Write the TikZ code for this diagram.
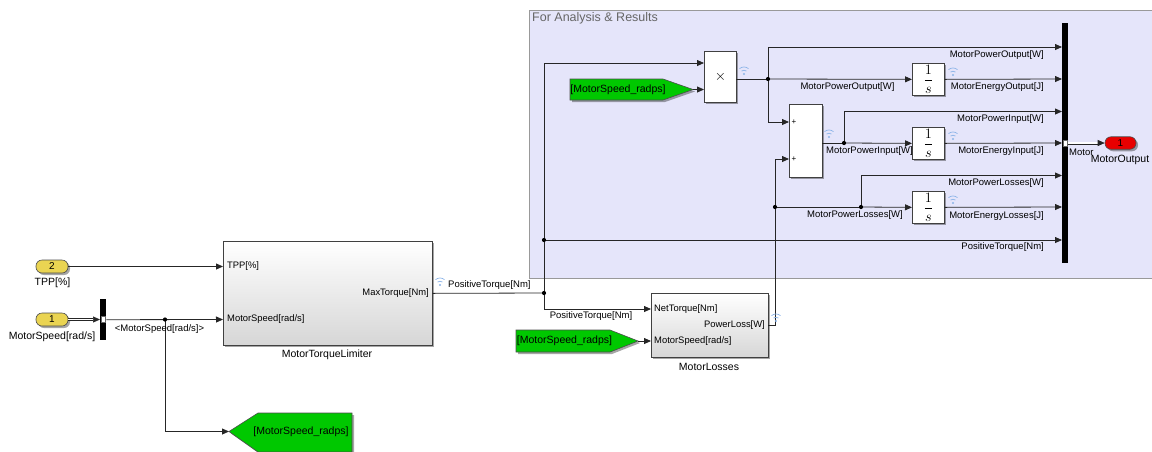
\documentclass[tikz,border=0pt]{standalone}
\usepackage{fontspec}
\setmainfont{Liberation Sans}
\usetikzlibrary{arrows.meta,shadows}
\definecolor{areafill}{RGB}{229,229,250}
\definecolor{taggreen}{RGB}{0,200,0}
\definecolor{inyellow}{RGB}{234,212,82}
\definecolor{outred}{RGB}{232,0,0}
\definecolor{wific}{RGB}{140,180,232}
\begin{document}
\begin{tikzpicture}[x=1pt,y=-1pt,
  font=\fontsize{9.5}{11}\selectfont,
  wire/.style={draw=black!85, line width=0.8pt},
  sig/.style={wire, -{Triangle[length=7pt,width=6pt]}},
  busw/.style={draw=black!85, line width=0.7pt, double=white, double distance=1.6pt},
  jdot/.style={circle, fill=black, inner sep=0pt, minimum size=4.2pt},
  bshadow/.style={drop shadow={shadow xshift=2pt, shadow yshift=-2pt, opacity=0.35, fill=black}},
  blk/.style={draw=black!75, fill=white, line width=0.7pt, bshadow, anchor=north west, inner sep=0pt},
  bigblk/.style={blk, top color=white, bottom color=black!16},
  lbl/.style={inner sep=0pt},
  plabel/.style={inner sep=0pt, font=\fontsize{9.4}{11}\selectfont},
  blkname/.style={inner sep=0pt, font=\fontsize{10.5}{12}\selectfont},
  tagshape/.style={draw=black!70, fill=taggreen, line width=0.6pt, bshadow},
  tagtext/.style={inner sep=0pt, font=\fontsize{10.5}{12}\selectfont},
  portblk/.style={draw=black!70, fill=inyellow, rounded corners=6pt, minimum width=32pt,
    minimum height=13pt, inner sep=0pt, line width=0.6pt, bshadow, font=\fontsize{10}{11}\selectfont},
  barblk/.style={fill=black, anchor=north west, inner sep=0pt},
  tap/.style={draw=black!60, fill=white, minimum width=4pt, minimum height=6pt, inner sep=0pt, line width=0.3pt},
  intg/.style={blk, minimum width=32pt, minimum height=32pt, font=\fontsize{13.5}{14}\selectfont},
  logpic/.pic={
    \fill[wific] (0,0) circle (1.1pt);
    \draw[wific, line width=0.7pt] ([shift={(50:3.8pt)}]0,0) arc[start angle=50, end angle=130, radius=3.8pt];
    \draw[wific, line width=0.7pt] ([shift={(50:7pt)}]0,0) arc[start angle=50, end angle=130, radius=7pt];
  }
]
\useasboundingbox (0,0) rectangle (1152,451);

% ---------- analysis area ----------
\node[draw=black!40, fill=areafill, line width=0.8pt, anchor=north west, inner sep=0pt,
      minimum width=640pt, minimum height=268.5pt] (area) at (529,9.5) {};
\node[anchor=west, inner sep=0pt, text=black!60, font=\fontsize{12.5}{14}\selectfont] (areatitle) at (532,18) {For Analysis \& Results};

% ---------- blocks ----------
\node[blk, minimum width=32pt, minimum height=51pt, font=\fontsize{14}{15}\selectfont] (prod) at (704,51) {$\times$};
\node[blk, minimum width=33pt, minimum height=73pt] (sum) at (789,104) {};
\node[lbl, font=\fontsize{8}{9}\selectfont] (sump1) at (794,122) {+};
\node[lbl, font=\fontsize{8}{9}\selectfont] (sump2) at (794,159) {+};
\node[intg] (int1) at (912,63) {$\displaystyle\frac{1}{s}$};
\node[intg] (int2) at (912,127) {$\displaystyle\frac{1}{s}$};
\node[intg] (int3) at (912,191) {$\displaystyle\frac{1}{s}$};
\node[barblk, minimum width=6pt, minimum height=240pt] (bus) at (1062,23) {};
\node[portblk, fill=outred, minimum width=31pt, minimum height=12.5pt] (out1) at (1120.5,143) {1};

\node[portblk] (in2) at (52,266.5) {2};
\node[portblk] (in1) at (52,319.5) {1};
\node[barblk, minimum width=6pt, minimum height=41pt] (bsel) at (100,299) {};
\node[tap] (bseltap) at (103,319.5) {};

\node[bigblk, minimum width=209pt, minimum height=104pt] (mtl) at (223,241) {};
\node[bigblk, minimum width=117pt, minimum height=64pt] (ml) at (651,293) {};

% ---------- goto / from tags ----------
\draw[tagshape] (570,79) -- (663,79) -- (693,89.5) -- (663,100) -- (570,100) -- cycle;
\coordinate (tag1-tip) at (693,89.5);
\node[tagtext] (tag1) at (618,89.5) {[MotorSpeed\_radps]};

\draw[tagshape] (516,330) -- (610,330) -- (638,341) -- (610,352) -- (516,352) -- cycle;
\coordinate (tag2-tip) at (638,341);
\node[tagtext] (tag2) at (564.5,341) {[MotorSpeed\_radps]};

\draw[tagshape] (229,431.5) -- (258,413) -- (352,413) -- (352,452) -- (258,452) -- cycle;
\coordinate (goto-tip) at (229,431.5);
\node[tagtext] (goto) at (301,431.5) {[MotorSpeed\_radps]};

% ---------- ports and junctions ----------
\coordinate (prod-i1) at (704,63);
\coordinate (prod-i2) at (704,89.5);
\coordinate (prod-o) at (736,79);
\coordinate (sum-i1) at (789,122);
\coordinate (sum-i2) at (789,159);
\coordinate (sum-o) at (822,143);
\coordinate (mtl-i1) at (223,266.5);
\coordinate (mtl-i2) at (223,319.5);
\coordinate (ml-i1) at (651,309);
\coordinate (ml-i2) at (651,341);
\coordinate (ml-o) at (768,325);
\coordinate (b1) at (1062,47);
\coordinate (b2) at (1062,79);
\coordinate (b3) at (1062,111.5);
\coordinate (b4) at (1062,143);
\coordinate (b5) at (1062,175.5);
\coordinate (b6) at (1062,207);
\coordinate (b7) at (1062,240);
\coordinate (bus-o) at (1068,143);
\coordinate (j0) at (165,319.5);
\coordinate (j1) at (544,293);
\coordinate (j2) at (544,240);
\coordinate (j3) at (768,79);
\coordinate (j4) at (844,143);
\coordinate (j5) at (775,207);
\coordinate (j6) at (861,207);

% ---------- connectors ----------
\draw[sig] (in2.east) -- (mtl-i1);
\draw[busw, -{Triangle[length=7pt,width=6pt]}] (in1.east) -- (bsel.west |- in1.east);
\draw[sig] (bsel.east) -- (mtl-i2);
\draw[sig] (j0) |- (goto-tip);
\draw[wire] (mtl.east) -- (j1);
\draw[sig] (j1) |- (prod-i1);
\draw[sig] (j2) -- (b7);
\draw[sig] (j1) |- (ml-i1);
\draw[sig] (tag1-tip) -- (prod-i2);
\draw[sig] (tag2-tip) -- (ml-i2);
\draw[wire] (prod-o) -- (j3);
\draw[sig] (j3) -- (int1.west);
\draw[sig] (j3) |- (b1);
\draw[sig] (j3) |- (sum-i1);
\draw[sig] (int1.east) -- (b2);
\draw[wire] (sum-o) -- (j4);
\draw[sig] (j4) -- (int2.west);
\draw[sig] (j4) |- (b3);
\draw[sig] (int2.east) -- (b4);
\draw[sig] (ml-o) -| (j5 |- sum-i2) -- (sum-i2);
\draw[wire] (j5) -- (j6);
\draw[sig] (j6) -- (int3.west);
\draw[sig] (j6) |- (b5);
\draw[sig] (int3.east) -- (b6);
\node[tap] (bustap) at (1065,143) {};
\draw[busw, -{Triangle[length=7pt,width=6pt]}] (bus-o) -- (out1.west);

\foreach \j in {j0,j1,j2,j3,j4,j5,j6} \node[jdot] at (\j) {};

% ---------- logging marks ----------
\pic at (744,74) {logpic};
\pic at (829,137) {logpic};
\pic at (953,75) {logpic};
\pic at (953,139) {logpic};
\pic at (953,203) {logpic};
\pic at (440,285) {logpic};
\pic at (776,321) {logpic};

% ---------- block texts ----------
\node[plabel, anchor=west] at (227,266.5) {TPP[\%]};
\node[plabel, anchor=west] at (227,319.5) {MotorSpeed[rad/s]};
\node[plabel, anchor=east] at (429,293) {MaxTorque[Nm]};
\node[blkname] at (327,355) {MotorTorqueLimiter};
\node[plabel, anchor=west] at (654,309) {NetTorque[Nm]};
\node[plabel, anchor=west] at (654,341) {MotorSpeed[rad/s]};
\node[plabel, anchor=east] at (765,325) {PowerLoss[W]};
\node[blkname] at (709,366.5) {MotorLosses};
\node[blkname] at (52.5,283) {TPP[\%]};
\node[blkname] at (52,337) {MotorSpeed[rad/s]};
\node[blkname] at (1120,160) {MotorOutput};

% ---------- signal labels ----------
\node[lbl] at (159.5,329) {<MotorSpeed[rad/s]>};
\node[lbl, anchor=west] at (448,285) {PositiveTorque[Nm]};
\node[lbl] at (591,316.5) {PositiveTorque[Nm]};
\node[lbl] at (847.5,87.5) {MotorPowerOutput[W]};
\node[lbl] at (869.5,151.5) {MotorPowerInput[W]};
\node[lbl] at (855,215.5) {MotorPowerLosses[W]};
\node[lbl, anchor=east] at (1044,55.5) {MotorPowerOutput[W]};
\node[lbl, anchor=east] at (1044,87.5) {MotorEnergyOutput[J]};
\node[lbl, anchor=east] at (1044,119) {MotorPowerInput[W]};
\node[lbl, anchor=east] at (1044,151.5) {MotorEnergyInput[J]};
\node[lbl, anchor=east] at (1044,183.5) {MotorPowerLosses[W]};
\node[lbl, anchor=east] at (1044,216) {MotorEnergyLosses[J]};
\node[lbl, anchor=east] at (1044,247.5) {PositiveTorque[Nm]};
\node[lbl, anchor=west] at (1069,152) {Motor};
\end{tikzpicture}
\end{document}
